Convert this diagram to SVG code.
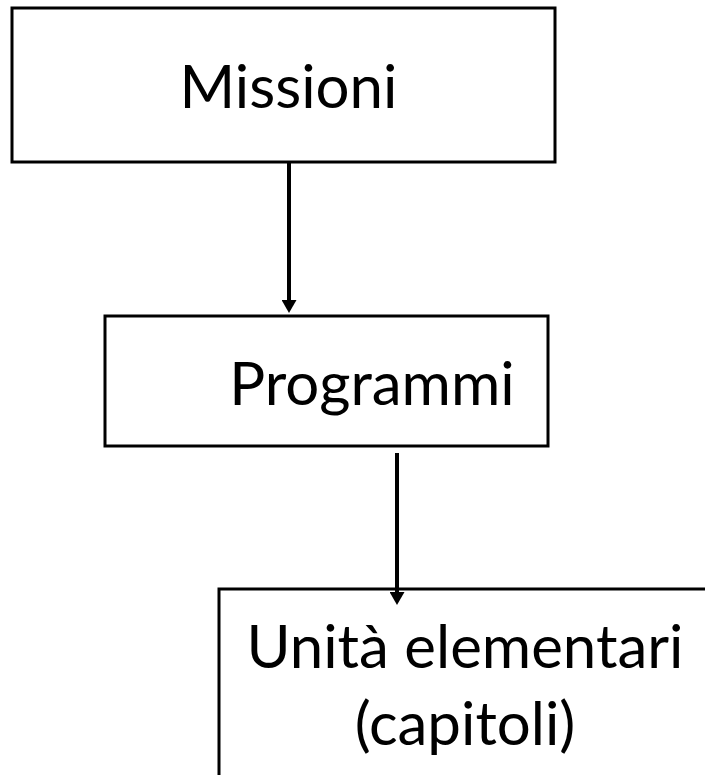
<svg xmlns="http://www.w3.org/2000/svg" width="705" height="775" viewBox="0 0 705 775">
<style>
.box{fill:#fff;stroke:#000;stroke-width:3}
.lbl{font-family:Lato,"Open Sans","Liberation Sans",sans-serif;font-size:60px;fill:#000}
.conn{stroke:#000;stroke-width:4;fill:none}
</style>
<defs>
<marker id="ah" markerWidth="13" markerHeight="15" refX="5" refY="7.5" orient="auto" markerUnits="userSpaceOnUse">
<path d="M0,0 L13,7.5 L0,15 Z" fill="#000"/>
</marker>
</defs>
<rect width="705" height="775" fill="#fff"/>
<g id="node-missioni">
<rect class="box" x="12" y="8" width="543" height="154"/>
<text class="lbl" x="288.5" y="108" text-anchor="middle">Missioni</text>
</g>
<g id="node-programmi">
<rect class="box" x="105" y="316" width="443" height="130"/>
<text class="lbl" x="372" y="405" text-anchor="middle">Programmi</text>
</g>
<g id="node-unita">
<rect class="box" x="219" y="589" width="500" height="200"/>
<text class="lbl" x="465" y="668" text-anchor="middle">Unità elementari</text>
<text class="lbl" x="465" y="745" text-anchor="middle">(capitoli)</text>
</g>
<g id="connectors">
<line class="conn" x1="289" y1="163" x2="289" y2="305" marker-end="url(#ah)"/>
<line class="conn" x1="397" y1="453" x2="397" y2="597" marker-end="url(#ah)"/>
</g>
</svg>
